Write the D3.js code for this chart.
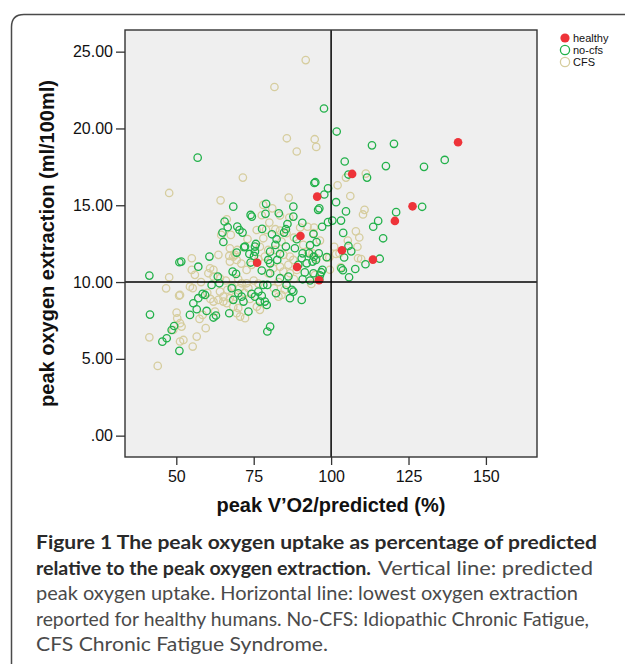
<!DOCTYPE html>
<html><head><meta charset="utf-8">
<script src="https://cdn.jsdelivr.net/npm/d3@7"></script>
<style>
html,body{margin:0;padding:0;background:#fff;}
svg{display:block;}
</style>
</head><body>
<svg id="chart" width="625" height="664"></svg>
<script>
// ---------------- DATA ----------------
const xTicks = [50, 75, 100, 125, 150];
const yTicks = [0, 5, 10, 15, 20, 25];
const yTickLabels = [".00", "5.00", "10.00", "15.00", "20.00", "25.00"];
const refX = 100;   // predicted peak oxygen uptake
const refY = 10;    // lowest O2 extraction in healthy humans
const seriesNames = ["healthy", "no-cfs", "CFS"];

const healthy = [
  [95.5,15.56],[106.8,17.04],[141.0,19.1],[126.3,14.93],[120.6,13.98],[113.5,11.46],
  [103.5,12.07],[96.1,10.12],[90.1,13.0],[89.0,10.98],[76.1,11.26]
];

const noCfs = [
  [56.9,18.1],[97.7,21.3],[101.8,19.8],[113.2,18.9],[120.3,19.0],[136.7,17.95],[130.0,17.5],
  [117.7,17.55],[104.4,17.85],[105.6,17.0],[111.6,16.8],[94.6,16.45],[94.9,16.5],[99.0,16.1],[97.8,15.7],
  [101.6,15.2],[104.8,14.6],[121.0,14.55],[129.4,14.9],[115.2,13.98],[113.6,13.6],[103.2,14.0],
  [100.4,14.0],[99.0,13.9],[97.1,13.6],[103.9,13.2],[116.8,12.85],[105.6,12.35],[106.5,12.0],
  [104.2,11.6],[115.7,11.52],[111.1,11.16],[107.8,10.85],[103.3,10.9],[103.8,10.77],[105.8,10.31],
  [97.2,10.8],[96.8,10.64],[96.4,10.44],[96.2,10.18],[90.5,8.83],[96.2,14.8],[95.8,14.7],[90.7,13.85],
  [94.3,13.13],[95.3,12.6],[93.2,12.4],[90.8,11.87],[92.9,11.87],[94.4,11.65],[96.0,11.87],[92.1,11.22],
  [94.0,11.33],[95.1,11.44],[91.5,10.63],[90.8,10.18],[93.2,10.1],[90.5,11.55],[98.6,11.62],[94.3,10.57],
  [65.6,13.94],[66.6,13.57],[64.9,13.22],[69.7,13.61],[70.4,13.39],[71.4,13.22],[65.2,12.61],[69.5,11.92],
  [72.2,12.31],[75.7,12.48],[75.4,12.31],[77.7,13.46],[80.9,13.11],[82.4,12.79],[82.0,12.42],[85.4,12.31],
  [85.9,13.78],[85.4,13.44],[84.8,13.22],[87.8,14.91],[87.8,14.26],[88.9,12.79],[88.3,12.2],[89.4,11.12],
  [83.5,11.83],[82.6,11.44],[80.3,11.22],[80.3,11.98],[79.7,11.44],[75.4,11.98],[75.1,11.7],[73.6,11.83],
  [74.0,11.27],[71.9,12.27],[60.7,11.66],[57.1,11.0],[51.6,11.33],[68.2,10.68],[77.6,10.75],[80.3,10.57],
  [83.5,10.25],[86.2,10.36],[79.0,15.09],[74.0,14.37],[74.4,14.26],[78.8,14.44],[83.1,14.48],[68.4,14.91],
  [63.4,10.36],
  [63.9,9.92],[61.4,9.81],[69.3,10.53],[58.5,9.23],[59.3,9.16],[57.1,8.95],[55.5,8.62],[56.6,8.23],
  [54.4,7.86],[59.8,8.12],[62.0,7.69],[62.8,7.82],[67.1,7.97],[67.9,9.6],[70.0,9.27],[71.1,9.05],
  [71.7,8.73],[68.4,8.84],[73.3,8.08],[74.3,9.23],[76.5,9.38],[77.6,9.1],[77.0,8.73],[78.6,8.73],
  [79.2,8.51],[75.4,9.05],[78.1,9.81],[79.4,9.81],[82.2,9.27],[85.6,9.81],[87.3,9.49],[87.8,9.38],
  [86.7,8.95],[80.3,7.1],[79.4,6.78],
  [51.0,11.29],[41.3,10.42],[41.5,7.88],[49.3,7.14],[48.5,6.88],[46.9,6.34],[45.5,6.12],[51.0,5.52]
];

const cfs = [
  [91.8,24.45],[81.7,22.7],[85.7,19.36],[94.7,19.3],[95.2,18.8],[88.9,18.5],[71.5,16.8],[47.7,15.8],
  [104.8,16.8],[111.2,17.06],[102.1,16.3],[86.3,15.5],[106.2,15.6],
  [110.8,14.7],[110.3,14.4],[108.0,13.3],[109.1,12.9],[105.4,12.7],[108.5,12.3],[101.0,12.3],[101.6,11.83],
  [102.7,11.87],[108.7,11.55],[109.7,11.5],[103.1,10.96],[99.6,10.8],[93.6,9.88],[94.5,13.55],[92.4,13.6],
  [96.4,12.7],[98.6,11.6],[99.4,11.6],[94.8,10.46],[94.0,11.87],[94.3,13.18],[91.0,12.42],[92.6,11.98],[95.3,11.55],
  [64.3,15.32],[78.1,15.02],[77.6,14.35],[83.5,14.33],[80.05,13.87],[66.3,14.09],[67.6,13.07],[64.5,13.07],
  [67.3,12.2],[68.96,11.77],[69.7,12.09],[67.1,11.7],[75.96,13.39],[78.1,12.85],[84.0,12.63],[83.5,13.35],
  [85.6,13.18],[90.0,13.55],[81.9,12.09],[84.6,11.77],[86.7,11.66],[86.2,11.12],[63.6,11.77],[55.0,11.55],
  [55.0,10.79],[60.9,10.9],[62.0,10.79],[67.3,11.33],[68.4,11.66],[69.5,11.44],[56.0,10.47],[62.0,10.36],
  [64.1,10.25],[72.7,10.79],[74.3,11.12],[81.3,10.9],[84.6,10.68],[88.9,10.79],[82.0,13.44],
  [79.7,12.09],[77.0,12.3],[78.6,11.66],[83.5,11.0],[87.8,11.44],
  [51.2,9.16],[54.4,9.7],[55.3,9.6],[60.35,10.57],[64.1,9.38],[65.2,8.73],[66.3,8.62],[65.2,9.05],
  [68.4,8.4],[70.0,8.3],[69.5,7.97],[70.6,7.75],[72.2,7.65],[67.3,8.95],[69.0,9.05],[72.7,9.92],
  [73.3,9.6],[71.1,9.92],[76.0,8.4],[77.0,8.19],[83.0,9.05],[84.0,9.16],[86.7,10.57],[79.7,10.57],
  [51.2,7.32],[51.7,7.1],[52.3,6.23],[51.2,6.13],[56.6,6.45],[55.3,5.8],[58.5,7.86],[62.5,8.08],
  [63.6,8.84],[62.0,8.73],
  [47.7,10.31],[46.7,9.59],[50.9,9.12],[50.1,8.01],[50.3,7.64],[49.0,6.88],[41.3,6.4],[44.0,4.54],
  [66.5,9.5],[68.0,9.7],[70.5,9.6],[72.0,9.3],[73.8,8.9],[66.0,10.1],[70.0,10.2],[75.0,10.1],
  [76.5,9.9],[81.5,9.6],[83.0,10.0],[85.0,9.5],[88.0,10.2],[58.0,10.0],[60.0,9.3],[61.0,8.9],
  [57.5,7.6],[59.5,7.0],[73.0,12.8],[71.0,11.2],[76.5,11.5],[79.0,13.4],[88.0,12.9],[86.5,14.2],[81.0,14.8]
];

const xTitle = "peak V\u2019O2/predicted (%)";
const yTitle = "peak oxygen extraction (ml/100ml)";
const captionLines = [
  [{t:"Figure 1 The peak oxygen uptake as percentage of predicted", b:true}],
  [{t:"relative to the peak oxygen extraction.", b:true},{t:"Vertical line: predicted", b:false}],
  [{t:"peak oxygen uptake. Horizontal line: lowest oxygen extraction", b:false}],
  [{t:"reported for healthy humans. No-CFS: Idiopathic Chronic Fatigue,", b:false}],
  [{t:"CFS Chronic Fatigue Syndrome.", b:false}]
];

// ---------------- LAYOUT ----------------
const svg = d3.select("#chart");
const P = {left:125, right:537, top:30, bottom:457};
const x = d3.scaleLinear().domain([33.43, 166.5]).range([P.left, P.right]);
const y = d3.scaleLinear().domain([-1.39, 26.41]).range([P.bottom, P.top]);
const colors = {"healthy":"#ee3339", "no-cfs":"#22b14a", "CFS":"#d6cd9e"};
const font = "'Liberation Sans', Arial, Helvetica, sans-serif";

// outer figure frame (rounded top-left corner)
svg.append("path")
  .attr("d", "M11.5,664 L11.5,27 Q11.5,14.5 24,14.5 L625,14.5")
  .attr("fill","none").attr("stroke","#4a4a4a").attr("stroke-width",1.5);

// plot background
svg.append("rect").attr("x",P.left).attr("y",P.top)
  .attr("width",P.right-P.left).attr("height",P.bottom-P.top)
  .attr("fill","#efefef");

// points
const gPts = svg.append("g");
gPts.selectAll("circle.cfs").data(cfs).join("circle").attr("class","cfs")
  .attr("cx",d=>x(d[0])).attr("cy",d=>y(d[1])).attr("r",3.7)
  .attr("fill","none").attr("stroke",colors["CFS"]).attr("stroke-width",1.3);
gPts.selectAll("circle.nocfs").data(noCfs).join("circle").attr("class","nocfs")
  .attr("cx",d=>x(d[0])).attr("cy",d=>y(d[1])).attr("r",3.7)
  .attr("fill","none").attr("stroke",colors["no-cfs"]).attr("stroke-width",1.3);
gPts.selectAll("circle.healthy").data(healthy).join("circle").attr("class","healthy")
  .attr("cx",d=>x(d[0])).attr("cy",d=>y(d[1])).attr("r",4.3)
  .attr("fill",colors["healthy"]);

// reference lines
svg.append("line").attr("x1",x(refX)).attr("x2",x(refX)).attr("y1",P.top).attr("y2",P.bottom)
  .attr("stroke","#000").attr("stroke-width",1.5);
svg.append("line").attr("x1",P.left).attr("x2",P.right).attr("y1",y(refY)).attr("y2",y(refY))
  .attr("stroke","#000").attr("stroke-width",1.5);

// frame
svg.append("rect").attr("x",P.left).attr("y",P.top)
  .attr("width",P.right-P.left).attr("height",P.bottom-P.top)
  .attr("fill","none").attr("stroke","#333").attr("stroke-width",1.4);

// axes
const xAxis = svg.append("g").attr("transform",`translate(0,${P.bottom})`)
  .call(d3.axisBottom(x).tickValues(xTicks).tickSize(8).tickPadding(6).tickFormat(d=>String(d)));
const yAxis = svg.append("g").attr("transform",`translate(${P.left},0)`)
  .call(d3.axisLeft(y).tickValues(yTicks).tickSize(9).tickPadding(3)
    .tickFormat((d,i)=>yTickLabels[i]));
[xAxis,yAxis].forEach(g=>{
  g.select(".domain").remove();
  g.selectAll(".tick line").attr("stroke","#333").attr("stroke-width",1.3);
  g.selectAll(".tick text").attr("fill","#111").style("font-family",font).style("font-size","16px");
});

// axis titles
svg.append("text").attr("x",(P.left+P.right)/2).attr("y",512)
  .attr("text-anchor","middle").style("font-family",font).style("font-size","20px")
  .style("font-weight","bold").attr("fill","#111").text(xTitle);
svg.append("text").attr("transform",`translate(54,${(P.top+P.bottom)/2}) rotate(-90)`)
  .attr("text-anchor","middle").style("font-family",font).style("font-size","20px")
  .style("font-weight","bold").attr("fill","#111").text(yTitle);

// legend
const lg = svg.append("g");
const legendY = [38, 50, 62];
seriesNames.forEach((name,i)=>{
  const c = lg.append("circle").attr("cx",565).attr("cy",legendY[i]).attr("r",4.6);
  if(name==="healthy") c.attr("fill",colors[name]);
  else c.attr("fill","none").attr("stroke",colors[name]).attr("stroke-width",1.3);
  lg.append("text").attr("x",573).attr("y",legendY[i]).attr("dy","0.35em")
    .style("font-family",font).style("font-size","11px").attr("fill","#111").text(name);
});

// caption
const capFont = "Lato, 'Open Sans', sans-serif";
const capBase = [549, 575, 600, 626, 651];
const capSegs = [
  [[36,561]],
  [[36,335],[378,215]],
  [[36,542]],
  [[36,553]],
  [[36,292]]
];
captionLines.forEach((segs,li)=>{
  segs.forEach((s,si)=>{
    const geom = capSegs[li][si];
    svg.append("text").attr("x",geom[0]).attr("y",capBase[li])
      .attr("textLength",geom[1]).attr("lengthAdjust","spacingAndGlyphs")
      .style("font-family",capFont).style("font-size","19px")
      .style("font-weight", s.b ? "bold" : "normal")
      .attr("fill", s.b ? "#2a2a2a" : "#4a4a4a").text(s.t);
  });
});
</script>
</body></html>
